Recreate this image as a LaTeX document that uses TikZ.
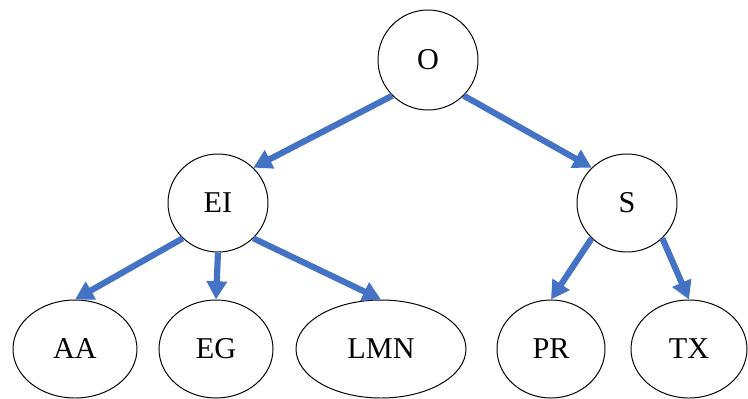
\documentclass[tikz,border=0pt]{standalone}
\usepackage{fontspec}
\setmainfont{Liberation Serif}
\usetikzlibrary{arrows.meta,shapes}
\definecolor{edgeblue}{HTML}{4472C4}
\tikzset{>={Triangle[length=13pt,width=14pt]}}
\tikzstyle{topic}=[ellipse,draw=black,line width=0.7pt,inner sep=0pt,minimum width=2.5cm,minimum height=2.45cm,font=\fontsize{21.5}{25}\selectfont]
\tikzstyle{branch}=[->,draw=edgeblue,line width=4.4pt]

\begin{document}
\begin{tikzpicture}
	\useasboundingbox (0,0) rectangle (18.7,-9.95);
	\node[topic, minimum height=2.5cm] (O) at (10.7, -1.5) {O};
	\node[topic] (EI) at (5.45, -5.075) {EI};
	\node[topic] (S) at (15.675, -5.075) {S};
	
	\node[topic, minimum width=3.1cm] (AA) at (1.875, -8.725) {AA};
	\node[topic, minimum width=2.85cm] (EG) at (5.4, -8.725) {EG};
	\node[topic, minimum width=4.25cm] (LMN) at (9.525, -8.725) {LMN};
	\node[topic, minimum width=2.7cm] (PR) at (13.775, -8.725) {PR};
	\node[topic, minimum width=2.9cm] (TX) at (17.225, -8.725) {TX};
	
	\draw[branch] (O.225) -- (EI.45);
	\draw[branch] (O.-45) -- (S.135);
	\draw[branch] (EI.225) -- (AA.north);
	\draw[branch] (EI.south) -- (EG.north);
	\draw[branch] (EI.-45) -- (LMN.north);
	\draw[branch] (S.225) -- (PR.north);
	\draw[branch] (S.-45) -- (TX.north);
\end{tikzpicture}
\end{document}
